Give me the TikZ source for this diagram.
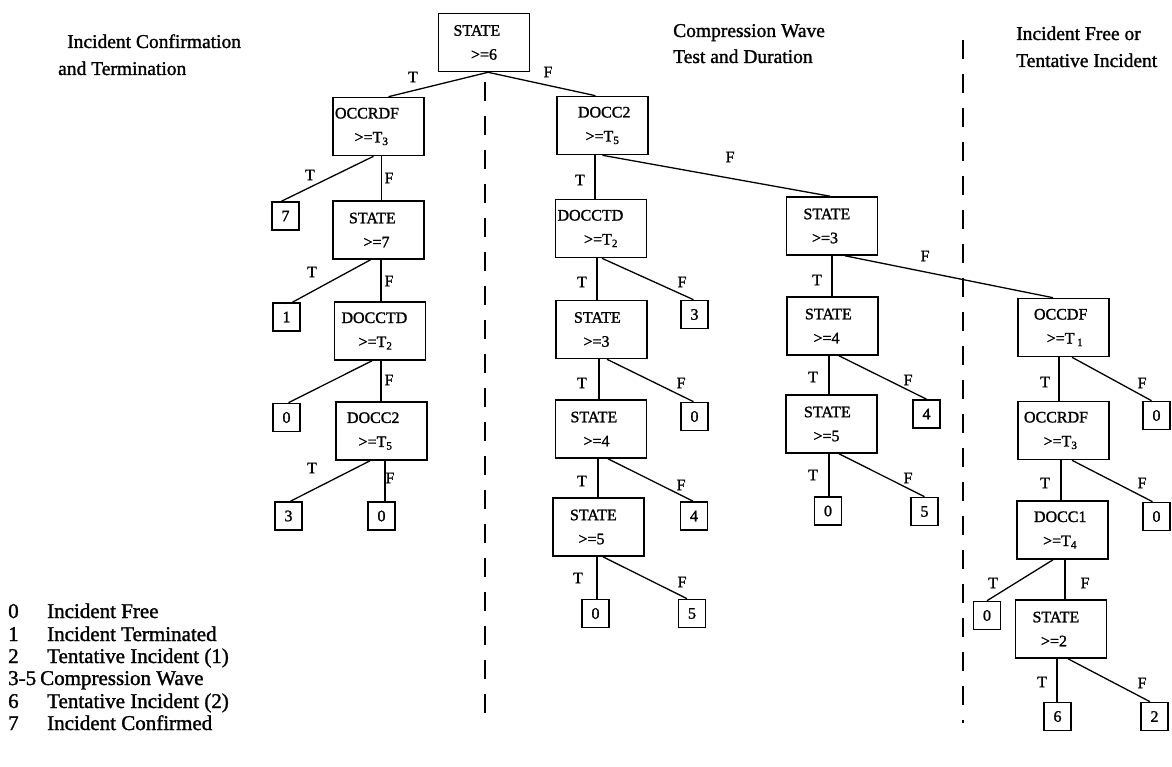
\documentclass[tikz,border=0pt]{standalone}
\usepackage{fontspec}
\setmainfont{Liberation Serif}[FakeBold=1.4]
\usetikzlibrary{calc}
\newcommand{\ndfont}{\fontsize{16}{24}\selectfont}
\newcommand{\ttlfont}{\fontsize{19.5}{27}\selectfont}
\newcommand{\lgdfont}{\fontsize{21}{22}\selectfont}
% first line: left pad; second line: doubled shift from centre
\newcommand{\twoline}[4]{\makebox[89pt][l]{\hspace*{#1}#2}\\\makebox[89pt]{\hspace*{#3}#4}}
\tikzset{
  dbox/.style={draw, line width=1.6pt, minimum width=91pt, minimum height=58pt,
    inner xsep=1pt, inner ysep=0pt, align=center, font=\ndfont},
  leaf/.style={draw, line width=1.6pt, minimum width=27pt, minimum height=28pt,
    inner sep=0pt, font=\ndfont},
  edge/.style={line width=1.3pt},
  lab/.style={font=\ndfont, inner sep=0pt},
  divider/.style={line width=1.6pt, dash pattern=on 19pt off 15pt},
  ttl/.style={font=\ttlfont, inner sep=0pt, anchor=base west},
  lgd/.style={font=\lgdfont, inner sep=0pt, anchor=base west}
}
\begin{document}
\begin{tikzpicture}[x=1pt,y=-1pt]
\useasboundingbox (0,0) rectangle (1172,767);

% titles
\node[ttl] (t1a) at (67,48) {Incident Confirmation};
\node[ttl] (t1b) at (58,75) {and Termination};
\node[ttl] (t2a) at (673,37) {Compression Wave};
\node[ttl] (t2b) at (673,63) {Test and Duration};
\node[ttl] (t3a) at (1016,40) {Incident Free or};
\node[ttl] (t3b) at (1016,67) {Tentative Incident};

% dividers
\coordinate (d1top) at (485,82);
\coordinate (d1bot) at (485,725);
\coordinate (d2top) at (963,40);
\coordinate (d2bot) at (963,723);
\draw[divider] (d1top) -- (d1bot);
\draw[divider] (d2top) -- (d2bot);

% root
\node[dbox] (root) at (484,42.5) {\twoline{14pt}{STATE}{0pt}{>=6}};

% left subtree
\node[dbox] (L1) at (378.5,126.5) {\twoline{1pt}{OCCRDF}{-14pt}{>=T\textsubscript{3}}};
\node[dbox] (L2) at (378.5,230) {\twoline{15pt}{STATE}{-4pt}{>=7}};
\node[dbox] (L3) at (380,331) {\twoline{6pt}{DOCCTD}{-9pt}{>=T\textsubscript{2}}};
\node[dbox] (L4) at (381.5,431) {\twoline{10pt}{DOCC2}{-12pt}{>=T\textsubscript{5}}};
\node[leaf] (l7) at (285.5,216) {7};
\node[leaf] (l1) at (286.5,317) {1};
\node[leaf] (l0a) at (286.5,417.5) {0};
\node[leaf] (l3a) at (288.5,516) {3};
\node[leaf] (l0b) at (381.5,516) {0};

% middle subtree
\node[dbox] (M1) at (602.5,125.5) {\twoline{20pt}{DOCC2}{0pt}{>=T\textsubscript{5}}};
\node[dbox] (M2) at (601,228.5) {\twoline{1pt}{DOCCTD}{0pt}{>=T\textsubscript{2}}};
\node[dbox] (M3) at (601.5,329.5) {\twoline{17pt}{STATE}{-10pt}{>=3}};
\node[dbox] (M4) at (601,429) {\twoline{14pt}{STATE}{-9pt}{>=4}};
\node[dbox] (M5) at (598.5,527) {\twoline{16pt}{STATE}{-14pt}{>=5}};
\node[leaf] (l3b) at (694.5,314.5) {3};
\node[leaf] (l0c) at (694.5,416.5) {0};
\node[leaf] (l4a) at (694,516) {4};
\node[leaf] (l0d) at (595.5,613.5) {0};
\node[leaf] (l5a) at (692,613.5) {5};

\node[dbox] (N1) at (832,226) {\twoline{16pt}{STATE}{-14pt}{>=3}};
\node[dbox] (N2) at (832.5,326) {\twoline{17pt}{STATE}{-12pt}{>=4}};
\node[dbox] (N3) at (831.5,424) {\twoline{17pt}{STATE}{-10pt}{>=5}};
\node[leaf] (l4b) at (926.5,414) {4};
\node[leaf] (l0e) at (828,511) {0};
\node[leaf] (l5b) at (924.5,511.5) {5};

% right subtree
\node[dbox] (R1) at (1063.5,327.5) {\twoline{15pt}{OCCDF}{3pt}{>=T\,\textsubscript{1}}};
\node[dbox] (R2) at (1063.5,430.5) {\twoline{5pt}{OCCRDF}{-6pt}{>=T\textsubscript{3}}};
\node[dbox] (R3) at (1062.5,530) {\twoline{16pt}{DOCC1}{-5pt}{>=T\textsubscript{4}}};
\node[dbox] (R4) at (1061,629) {\twoline{16pt}{STATE}{-14pt}{>=2}};
\node[leaf] (l0f) at (1156.5,415.5) {0};
\node[leaf] (l0g) at (1156.5,516.5) {0};
\node[leaf] (l0h) at (987,615.5) {0};
\node[leaf] (l6) at (1057.5,716.5) {6};
\node[leaf] (l2) at (1154.5,716.5) {2};

% edges
\draw[edge] ($(root.south)+(4,0)$) -- ($(L1.north)+(10,0)$);
\draw[edge] ($(root.south)+(4,0)$) -- ($(M1.north)+(-7,0)$);

\draw[edge] ($(L1.south)+(-5,0)$) -- ($(l7.north)+(-4,0)$);
\draw[edge] ($(L1.south)+(3,0)$) -- ($(L2.north)+(3,0)$);
\draw[edge] ($(L2.south)+(-8,0)$) -- ($(l1.north)+(6,0)$);
\draw[edge] ($(L2.south)+(2.5,0)$) -- ($(L3.north)+(1,0)$);
\draw[edge] ($(L3.south)+(-8,0)$) -- ($(l0a.north)+(2,0)$);
\draw[edge] ($(L3.south)+(1,0)$) -- ($(L4.north)+(-0.5,0)$);
\draw[edge] ($(L4.south)+(-11.5,0)$) -- ($(l3a.north)+(2,0)$);
\draw[edge] ($(L4.south)+(3.5,0)$) -- ($(l0b.north)+(3.5,0)$);

\draw[edge] ($(M1.south)+(-7.5,0)$) -- ($(M2.north)+(-6,0)$);
\draw[edge] (M1.south) -- ($(N1.north)+(-2,0)$);
\draw[edge] ($(M2.south)+(-4,0)$) -- ($(M3.north)+(-4.5,0)$);
\draw[edge] ($(M2.south)+(1,0)$) -- ($(l3b.north)+(-1,0)$);
\draw[edge] ($(M3.south)+(-2.5,0)$) -- ($(M4.north)+(-2,0)$);
\draw[edge] ($(M3.south)+(5.5,0)$) -- ($(l0c.north)+(-1,0)$);
\draw[edge] ($(M4.south)+(-3,0)$) -- ($(M5.north)+(-0.5,0)$);
\draw[edge] ($(M4.south)+(7,0)$) -- ($(l4a.north)+(-1,0)$);
\draw[edge] ($(M5.south)+(-1.5,0)$) -- ($(l0d.north)+(1.5,0)$);
\draw[edge] ($(M5.south)+(4.5,0)$) -- ($(l5a.north)+(-5,0)$);

\draw[edge] (N1.south) -- ($(N2.north)+(-0.5,0)$);
\draw[edge] ($(N1.south)+(13,0)$) -- ($(R1.north)+(-10.5,0)$);
\draw[edge] ($(N2.south)+(-3.5,0)$) -- ($(N3.north)+(-2.5,0)$);
\draw[edge] ($(N2.south)+(6.5,0)$) -- (l4b.north);
\draw[edge] ($(N3.south)+(-2.5,0)$) -- ($(l0e.north)+(1,0)$);
\draw[edge] ($(N3.south)+(7.5,0)$) -- (l5b.north);

\draw[edge] ($(R1.south)+(-4.5,0)$) -- ($(R2.north)+(-4.5,0)$);
\draw[edge] ($(R1.south)+(8.5,0)$) -- ($(l0f.north)+(-5,0)$);
\draw[edge] ($(R2.south)+(-2.5,0)$) -- ($(R3.north)+(-1.5,0)$);
\draw[edge] ($(R2.south)+(8.5,0)$) -- ($(l0g.north)+(-4,0)$);
\draw[edge] ($(R3.south)+(-9.5,0)$) -- (l0h.north);
\draw[edge] ($(R3.south)+(2.5,0)$) -- ($(R4.north)+(4,0)$);
\draw[edge] ($(R4.south)+(-4,0)$) -- ($(l6.north)+(-0.5,0)$);
\draw[edge] ($(R4.south)+(7,0)$) -- ($(l2.north)+(-4.5,0)$);

% edge labels
\node[lab] (e1) at (413,77) {T};
\node[lab] (e2) at (548,72) {F};
\node[lab] (e3) at (310,175) {T};
\node[lab] (e4) at (389,178) {F};
\node[lab] (e5) at (312,272) {T};
\node[lab] (e6) at (389,281) {F};
\node[lab] (e7) at (389,380) {F};
\node[lab] (e8) at (312,468) {T};
\node[lab] (e9) at (390,478) {F};

\node[lab] (e10) at (580,180) {T};
\node[lab] (e11) at (730,157) {F};
\node[lab] (e12) at (582,282) {T};
\node[lab] (e13) at (682,282) {F};
\node[lab] (e14) at (582,383) {T};
\node[lab] (e15) at (681,383) {F};
\node[lab] (e16) at (582,481) {T};
\node[lab] (e17) at (681,485) {F};
\node[lab] (e18) at (578,578) {T};
\node[lab] (e19) at (682,582) {F};

\node[lab] (e20) at (817,280) {T};
\node[lab] (e21) at (925,256) {F};
\node[lab] (e22) at (813,377) {T};
\node[lab] (e23) at (908,380) {F};
\node[lab] (e24) at (813,475) {T};
\node[lab] (e25) at (908,478) {F};

\node[lab] (e26) at (1045,382) {T};
\node[lab] (e27) at (1142,383) {F};
\node[lab] (e28) at (1045,483) {T};
\node[lab] (e29) at (1142,483) {F};
\node[lab] (e30) at (993,583) {T};
\node[lab] (e31) at (1085,583) {F};
\node[lab] (e32) at (1042,682) {T};
\node[lab] (e33) at (1142,683) {F};

% legend
\node[lgd] (g0n) at (8,618) {0};
\node[lgd] (g0t) at (47,618) {Incident Free};
\node[lgd] (g1n) at (8,641) {1};
\node[lgd] (g1t) at (47,641) {Incident Terminated};
\node[lgd] (g2n) at (8,663) {2};
\node[lgd] (g2t) at (47,663) {Tentative Incident (1)};
\node[lgd] (g3n) at (8,685) {3-5};
\node[lgd] (g3t) at (40,685) {Compression Wave};
\node[lgd] (g6n) at (8,708) {6};
\node[lgd] (g6t) at (47,708) {Tentative Incident (2)};
\node[lgd] (g7n) at (8,730) {7};
\node[lgd] (g7t) at (47,730) {Incident Confirmed};
\end{tikzpicture}
\end{document}
